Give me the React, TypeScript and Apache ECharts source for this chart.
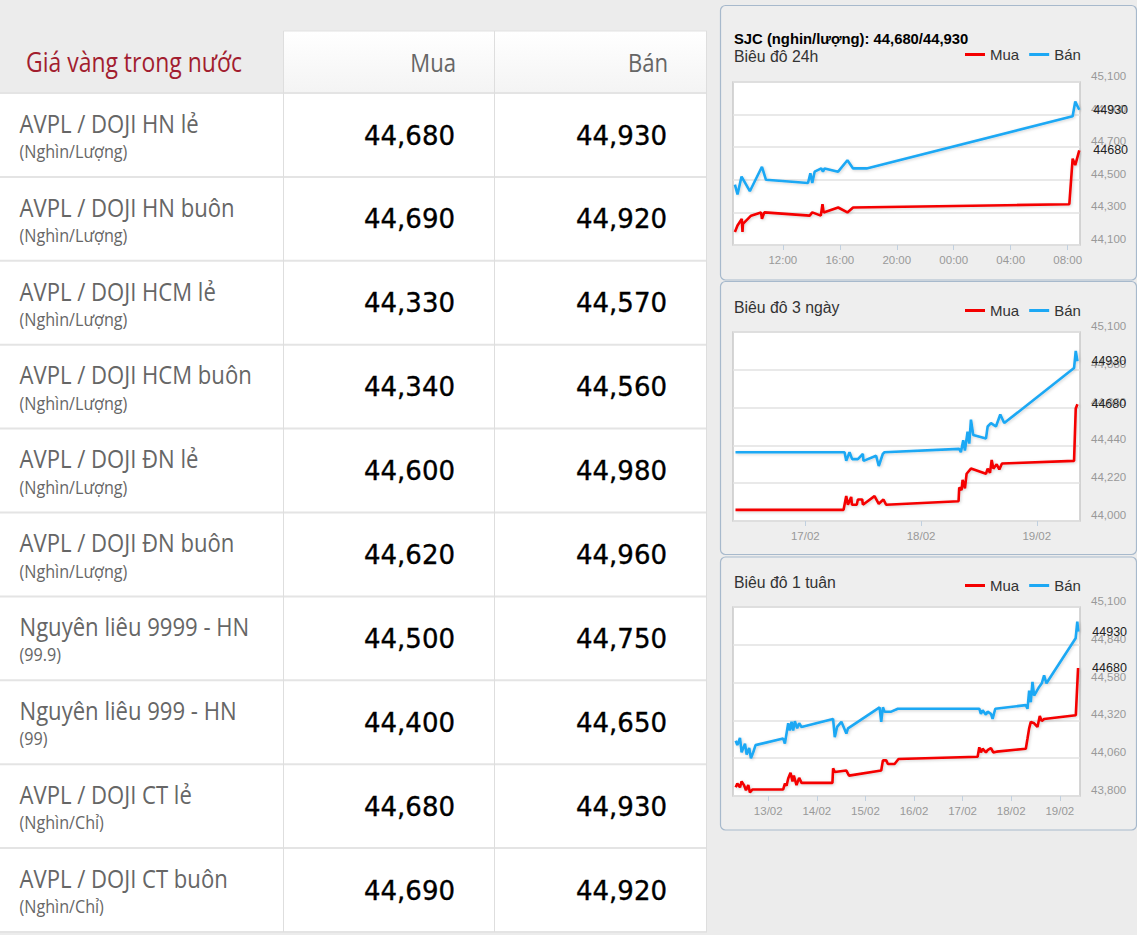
import React, { useEffect, useRef } from 'react';
import * as echarts from 'echarts';

// ---------- table data ----------
const tableHeader = ['Giá vàng trong nước', 'Mua', 'Bán'];
const productNames = [
  'AVPL / DOJI HN lẻ',
  'AVPL / DOJI HN buôn',
  'AVPL / DOJI HCM lẻ',
  'AVPL / DOJI HCM buôn',
  'AVPL / DOJI ĐN lẻ',
  'AVPL / DOJI ĐN buôn',
  'Nguyên liêu 9999 - HN',
  'Nguyên liêu 999 - HN',
  'AVPL / DOJI CT lẻ',
  'AVPL / DOJI CT buôn',
];
const productUnits = [
  '(Nghìn/Lượng)', '(Nghìn/Lượng)', '(Nghìn/Lượng)', '(Nghìn/Lượng)', '(Nghìn/Lượng)',
  '(Nghìn/Lượng)', '(99.9)', '(99)', '(Nghìn/Chỉ)', '(Nghìn/Chỉ)',
];
const buyPrices = [44680, 44690, 44330, 44340, 44600, 44620, 44500, 44400, 44680, 44690];
const sellPrices = [44930, 44920, 44570, 44560, 44980, 44960, 44750, 44650, 44930, 44920];

// ---------- chart texts ----------
const chartTitle = 'SJC (nghin/lượng): 44,680/44,930';
const chartSubtitles = ['Biêu đô 24h', 'Biêu đô 3 ngày', 'Biêu đô 1 tuân'];
const legendNames = ['Mua', 'Bán'];

// ---------- 24h chart (Feb 2020, "day hh:mm") ----------
const h24Range = ['18 08:30', '19 08:52'];
const h24XTicks = ['18 12:00', '18 16:00', '18 20:00', '19 00:00', '19 04:00', '19 08:00'];
const h24YTicks = [44100, 44300, 44500, 44700, 44900, 45100];
const h24MuaTimes = ['18 08:38', '18 08:49', '18 09:07', '18 09:10', '18 09:12', '18 09:46', '18 10:28', '18 10:32', '18 10:42', '18 13:53', '18 14:04', '18 14:40', '18 14:47', '18 14:52', '18 15:53', '18 16:32', '18 16:56', '19 08:07', '19 08:21', '19 08:32', '19 08:49'];
const h24MuaValues = [44180, 44220, 44260, 44180, 44230, 44280, 44300, 44260, 44300, 44280, 44300, 44280, 44350, 44300, 44330, 44300, 44330, 44350, 44630, 44590, 44680];
const h24BanTimes = ['18 08:38', '18 08:49', '18 09:06', '18 09:41', '18 10:32', '18 10:49', '18 13:46', '18 13:56', '18 14:04', '18 14:14', '18 14:42', '18 14:49', '18 14:56', '18 15:53', '18 16:32', '18 16:56', '18 17:53', '19 08:21', '19 08:32', '19 08:49'];
const h24BanValues = [44470, 44410, 44520, 44430, 44580, 44500, 44480, 44540, 44480, 44550, 44570, 44550, 44570, 44550, 44620, 44570, 44570, 44890, 44980, 44930];

// ---------- 3 day chart ----------
const d3Range = ['16 09:00', '19 08:58'];
const d3XTicks = ['17 00:00', '18 00:00', '19 00:00'];
const d3YTicks = [44000, 44220, 44440, 44660, 44880, 45100];
const d3MuaTimes = ['16 09:31', '17 07:56', '17 08:29', '17 08:50', '17 09:31', '17 09:40', '17 10:40', '17 10:54', '17 11:48', '17 11:56', '17 14:21', '17 15:14', '17 16:12', '17 16:45', '18 07:47', '18 07:55', '18 08:24', '18 08:37', '18 09:06', '18 09:27', '18 10:21', '18 13:28', '18 13:49', '18 14:18', '18 14:39', '18 15:00', '18 15:41', '18 16:14', '18 16:47', '19 07:44', '19 08:05', '19 08:26'];
const d3MuaValues = [44065, 44065, 44145, 44095, 44140, 44095, 44095, 44125, 44125, 44095, 44145, 44100, 44125, 44095, 44115, 44195, 44180, 44240, 44190, 44275, 44305, 44275, 44305, 44280, 44355, 44305, 44330, 44300, 44335, 44350, 44655, 44680];
const d3BanTimes = ['16 09:31', '17 08:08', '17 08:29', '17 09:10', '17 09:43', '17 10:54', '17 11:56', '17 12:04', '17 14:41', '17 15:14', '17 16:04', '17 16:25', '18 07:55', '18 08:16', '18 08:45', '18 09:06', '18 09:39', '18 10:00', '18 10:21', '18 10:50', '18 13:28', '18 13:49', '18 14:30', '18 15:32', '18 16:26', '18 17:15', '19 07:44', '19 08:05', '19 08:26'];
const d3BanValues = [44400, 44400, 44350, 44400, 44360, 44360, 44390, 44350, 44380, 44320, 44390, 44400, 44420, 44400, 44470, 44410, 44520, 44450, 44590, 44500, 44480, 44550, 44570, 44550, 44620, 44570, 44890, 44990, 44930];

// ---------- 1 week chart ----------
const w1Range = ['12 06:35', '19 09:59'];
const w1XTicks = ['13 00:00', '14 00:00', '15 00:00', '16 00:00', '17 00:00', '18 00:00', '19 00:00'];
const w1YTicks = [43800, 44060, 44320, 44580, 44840, 45100];
const w1MuaTimes = ['12 07:54', '12 08:43', '12 10:02', '12 10:50', '12 12:00', '12 12:59', '12 14:08', '12 14:57', '12 16:15', '13 07:23', '13 08:13', '13 09:02', '13 09:51', '13 11:00', '13 11:59', '13 12:38', '13 13:57', '13 15:16', '13 16:25', '14 07:42', '14 08:02', '14 08:51', '14 14:35', '14 15:54', '15 07:48', '15 08:38', '15 10:16', '15 11:06', '15 14:23', '15 16:21', '17 07:25', '17 08:14', '17 09:03', '17 09:52', '17 11:31', '17 12:20', '17 14:00', '17 15:08', '17 16:47', '18 07:13', '18 08:03', '18 08:52', '18 09:41', '18 11:20', '18 12:58', '18 14:07', '18 15:06', '18 16:15', '19 07:55', '19 09:02'];
const w1MuaValues = [43860, 43885, 43860, 43900, 43875, 43840, 43875, 43825, 43845, 43845, 43885, 43870, 43920, 43960, 43900, 43940, 43875, 43925, 43890, 43890, 43990, 43965, 43975, 43940, 43975, 44045, 44045, 44020, 44020, 44055, 44070, 44135, 44100, 44125, 44100, 44115, 44130, 44100, 44105, 44125, 44195, 44265, 44310, 44300, 44275, 44350, 44315, 44330, 44355, 44680];
const w1BanTimes = ['12 07:54', '12 08:43', '12 10:02', '12 10:50', '12 12:30', '12 13:20', '12 14:35', '12 15:27', '12 16:34', '12 17:43', '13 07:23', '13 08:13', '13 09:51', '13 10:40', '13 11:30', '13 12:19', '13 13:08', '13 14:17', '13 15:16', '13 16:25', '14 08:01', '14 08:51', '14 10:00', '14 12:08', '14 14:35', '14 15:24', '15 06:59', '15 07:48', '15 08:38', '15 09:27', '15 12:44', '15 16:01', '17 08:14', '17 09:03', '17 09:52', '17 11:31', '17 12:20', '17 14:00', '17 14:49', '17 16:08', '18 07:13', '18 08:03', '18 08:52', '18 09:41', '18 10:30', '18 11:20', '18 13:48', '18 15:06', '18 16:15', '18 17:24', '19 07:50', '19 08:39', '19 09:09'];
const w1BanValues = [44180, 44150, 44200, 44100, 44160, 44085, 44130, 44060, 44100, 44150, 44195, 44160, 44300, 44250, 44310, 44250, 44315, 44265, 44300, 44275, 44330, 44205, 44275, 44310, 44230, 44265, 44410, 44310, 44410, 44380, 44380, 44400, 44400, 44365, 44390, 44360, 44380, 44365, 44330, 44400, 44425, 44400, 44525, 44445, 44585, 44490, 44550, 44575, 44630, 44575, 44885, 45000, 44930];

const RED = '#f40000';
const BLUE = '#1ca8f4';

const parseTime = (t: string) => {
  const [d, hm] = t.split(' ');
  const [h, m] = hm.split(':');
  return Date.UTC(2020, 1, Number(d), Number(h), Number(m));
};
const pad = (n: number) => (n < 10 ? '0' + n : String(n));
const fmtHour = (v: number) => {
  const d = new Date(v);
  return pad(d.getUTCHours()) + ':' + pad(d.getUTCMinutes());
};
const fmtDay = (v: number) => {
  const d = new Date(v);
  return pad(d.getUTCDate()) + '/' + pad(d.getUTCMonth() + 1);
};
const fmtNum = (v: number) => v.toLocaleString('en-US');

function buildOption() {
  const CHART_FONT = 'Liberation Sans';
  const gridTops = [82, 332, 607];
  const gridHeights = [163, 189, 189];
  const panels = [
    [5.5, 274.5],
    [281.5, 273],
    [557, 273],
  ];

  const graphic: any[] = [];

  // chart panels
  panels.forEach(([y, h]) => {
    graphic.push({
      type: 'rect',
      z: -100,
      shape: { x: 720.5, y, width: 416, height: h, r: 5 },
      style: { fill: '#eeeeee', stroke: '#a7b9cc', lineWidth: 1.2 },
      silent: true,
    });
  });

  // table
  const ROW_TOP = 93;
  const ROW_H = 83.9;
  const TABLE_BOTTOM = ROW_TOP + ROW_H * productNames.length;
  graphic.push({
    type: 'rect', z: -100, silent: true,
    shape: { x: 0, y: ROW_TOP, width: 707, height: TABLE_BOTTOM - ROW_TOP },
    style: { fill: '#ffffff' },
  });
  graphic.push({
    type: 'rect', z: -100, silent: true,
    shape: { x: 283.5, y: 31, width: 423, height: ROW_TOP - 31 },
    style: {
      fill: new echarts.graphic.LinearGradient(0, 0, 0, 1, [
        { offset: 0, color: '#ffffff' },
        { offset: 1, color: '#f4f4f4' },
      ]),
    },
  });
  graphic.push({
    type: 'line', z: -90, silent: true,
    shape: { x1: 283.5, y1: 31, x2: 707, y2: 31 },
    style: { stroke: '#e2e2e2', lineWidth: 1 },
  });
  for (let i = 0; i <= productNames.length; i++) {
    const y = ROW_TOP + i * ROW_H;
    graphic.push({
      type: 'line', z: -90, silent: true,
      shape: { x1: 0, y1: y, x2: 707, y2: y },
      style: { stroke: '#e4e4e4', lineWidth: 2 },
    });
  }
  [283.5, 494.5, 706.5].forEach((x) => {
    graphic.push({
      type: 'line', z: -90, silent: true,
      shape: { x1: x, y1: 31, x2: x, y2: TABLE_BOTTOM },
      style: { stroke: '#dedede', lineWidth: 1 },
    });
  });

  const sx = 0.85;
  const txt = (text: string, x: number, y: number, opts: any, scale = true) => ({
    type: 'text',
    x,
    y,
    scaleX: scale ? sx : 1,
    silent: true,
    style: Object.assign(
      { text, x: 0, y: 0, textVerticalAlign: 'middle', verticalAlign: 'middle' },
      opts
    ),
  });

  graphic.push(
    txt(tableHeader[0], 26, 61.5, { fill: '#a21d2f', fontSize: 27, fontFamily: 'Open Sans', textAlign: 'left', align: 'left' })
  );
  graphic.push(
    txt(tableHeader[1], 456, 61.5, { fill: '#666666', fontSize: 26, fontFamily: 'Open Sans', textAlign: 'right', align: 'right' })
  );
  graphic.push(
    txt(tableHeader[2], 668, 61.5, { fill: '#666666', fontSize: 26, fontFamily: 'Open Sans', textAlign: 'right', align: 'right' })
  );

  const numStyle = {
    fill: '#000000',
    fontSize: 26,
    fontFamily: 'DejaVu Sans',
    textAlign: 'right',
    align: 'right',
    stroke: '#000000',
    lineWidth: 0.35,
  };
  productNames.forEach((name, i) => {
    const top = ROW_TOP + i * ROW_H;
    graphic.push(
      txt(name, 19.5, top + 29.5, { fill: '#666666', fontSize: 26, fontFamily: 'Open Sans', textAlign: 'left', align: 'left' })
    );
    graphic.push(
      txt(productUnits[i], 19.5, top + 57.5, { fill: '#666666', fontSize: 19, fontFamily: 'Open Sans', textAlign: 'left', align: 'left' })
    );
    graphic.push(txt(fmtNum(buyPrices[i]), 455, top + 42.5, numStyle, false));
    graphic.push(txt(fmtNum(sellPrices[i]), 667, top + 42.5, numStyle, false));
  });

  // chart titles
  graphic.push(
    txt(chartTitle, 734, 38.5, { fill: '#000000', fontSize: 14.8, fontWeight: 'bold', fontFamily: CHART_FONT, textAlign: 'left', align: 'left' }, false)
  );
  const subY = [56, 307.5, 582.5];
  chartSubtitles.forEach((s, i) => {
    graphic.push(
      txt(s, 734, subY[i], { fill: '#333333', fontSize: 15.8, fontFamily: CHART_FONT, textAlign: 'left', align: 'left' }, false)
    );
  });

  const legendTops = [47, 303, 578];
  const legend = legendTops.map((top) => ({
    left: 965,
    top,
    padding: 0,
    data: legendNames,
    icon: 'rect',
    itemWidth: 20,
    itemHeight: 3,
    itemGap: 10,
    selectedMode: false,
    textStyle: { fontSize: 15, color: '#333333', fontFamily: CHART_FONT },
  }));

  const grid = gridTops.map((top, i) => ({
    left: 733,
    top,
    width: 347,
    height: gridHeights[i],
    show: true,
    backgroundColor: '#ffffff',
    borderColor: '#c9c9c9',
    borderWidth: 1.5,
  }));

  const ranges = [h24Range, d3Range, w1Range];
  const xTicks = [h24XTicks, d3XTicks, w1XTicks];
  const xFmts = [fmtHour, fmtDay, fmtDay];
  const xAxis = ranges.map((r, i) => {
    const ticks = xTicks[i].map(parseTime);
    return {
      type: 'value',
      gridIndex: i,
      min: parseTime(r[0]),
      max: parseTime(r[1]),
      axisLine: { show: false },
      axisTick: { show: true, length: 5, lineStyle: { color: '#c0d0e0', width: 1 }, customValues: ticks },
      axisLabel: {
        customValues: ticks,
        formatter: xFmts[i],
        color: '#999999',
        fontSize: 11.5,
        fontFamily: CHART_FONT,
        margin: 9,
      },
      splitLine: { show: false },
    };
  });

  const yTicks = [h24YTicks, d3YTicks, w1YTicks];
  const yAxis = yTicks.map((ticks, i) => ({
    type: 'value',
    gridIndex: i,
    position: 'right',
    min: ticks[0],
    max: ticks[ticks.length - 1],
    axisLine: { show: false },
    axisTick: { show: false, customValues: ticks },
    axisLabel: {
      customValues: ticks,
      formatter: (v: number) => fmtNum(v),
      color: '#999999',
      fontSize: 11.5,
      fontFamily: CHART_FONT,
      margin: 11,
      verticalAlign: 'bottom',
    },
    splitLine: { show: true, lineStyle: { color: '#e2e2e2', width: 1.5 } },
  }));

  const mk = (name: string, color: string, times: string[], values: number[], idx: number) => ({
    type: 'line',
    name,
    xAxisIndex: idx,
    yAxisIndex: idx,
    data: times.map((t, k) => [parseTime(t), values[k]]),
    showSymbol: false,
    symbol: 'none',
    color,
    silent: true,
    lineStyle: {
      width: 2.6,
      color,
      shadowColor: 'rgba(0,0,0,0.18)',
      shadowBlur: 3,
      shadowOffsetX: 1,
      shadowOffsetY: 1,
    },
    endLabel: {
      show: true,
      formatter: (p: any) => String(p.value[1]),
      distance: 14,
      color: '#222222',
      fontSize: 12.5,
      fontFamily: CHART_FONT,
    },
  });

  const series = [
    mk('Mua', RED, h24MuaTimes, h24MuaValues, 0),
    mk('Bán', BLUE, h24BanTimes, h24BanValues, 0),
    mk('Mua', RED, d3MuaTimes, d3MuaValues, 1),
    mk('Bán', BLUE, d3BanTimes, d3BanValues, 1),
    mk('Mua', RED, w1MuaTimes, w1MuaValues, 2),
    mk('Bán', BLUE, w1BanTimes, w1BanValues, 2),
  ];

  return {
    animation: false,
    backgroundColor: '#ececec',
    textStyle: { fontFamily: CHART_FONT },
    legend,
    grid,
    xAxis,
    yAxis,
    series,
    graphic: { elements: graphic },
  };
}

export default function App() {
  const ref = useRef<HTMLDivElement | null>(null);
  useEffect(() => {
    if (!ref.current) return;
    const chart = echarts.init(ref.current, undefined, { renderer: 'svg' });
    chart.setOption(buildOption() as any);
    return () => chart.dispose();
  }, []);
  return (
    <div
      ref={ref}
      style={{ position: 'absolute', left: 0, top: 0, width: 1137, height: 935 }}
    />
  );
}
